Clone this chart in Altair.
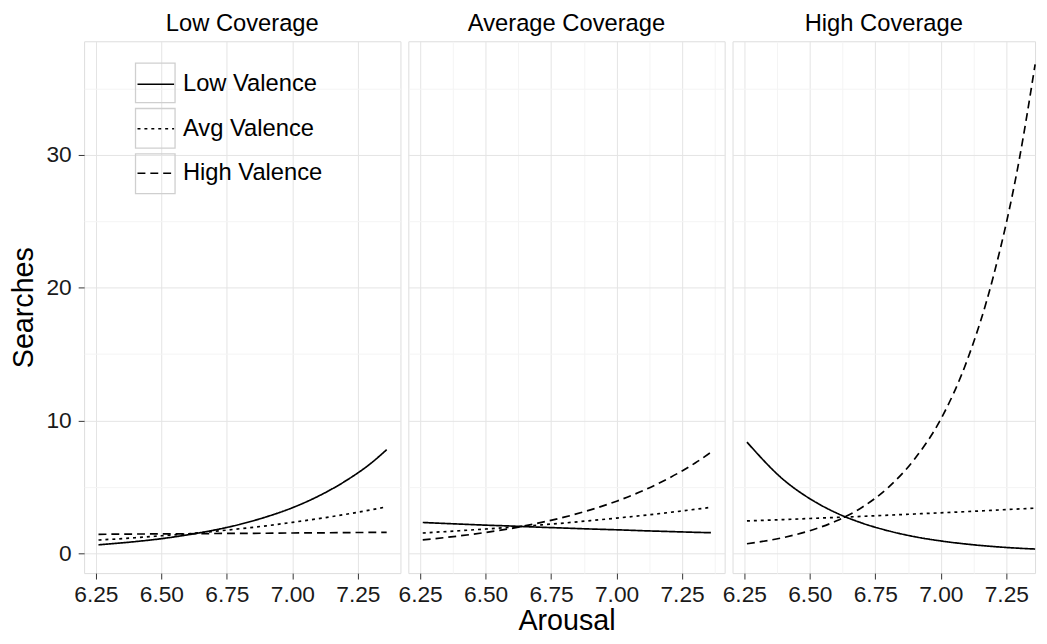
import altair as alt
import pandas as pd

FONT = "Liberation Sans"

arousal = [6.26, 6.40, 6.50, 6.60, 6.70, 6.80, 6.90, 7.00, 7.10, 7.20, 7.30, 7.36]
coverages = ["Low Coverage", "Average Coverage", "High Coverage"]
valences = ["Low Valence", "Avg Valence", "High Valence"]

low_cov_low_val = [0.64, 0.88, 1.10, 1.39, 1.74, 2.18, 2.74, 3.43, 4.31, 5.41, 6.78, 7.80]
low_cov_avg_val = [1.00, 1.17, 1.32, 1.47, 1.65, 1.85, 2.07, 2.33, 2.61, 2.92, 3.27, 3.50]
low_cov_high_val = [1.43, 1.45, 1.46, 1.47, 1.49, 1.50, 1.51, 1.53, 1.54, 1.56, 1.57, 1.58]

avg_cov_low_val = [2.32, 2.20, 2.12, 2.05, 1.97, 1.90, 1.83, 1.77, 1.70, 1.64, 1.58, 1.55]
avg_cov_avg_val = [1.53, 1.70, 1.83, 1.97, 2.12, 2.28, 2.46, 2.65, 2.85, 3.07, 3.31, 3.46]
avg_cov_high_val = [1.01, 1.31, 1.57, 1.88, 2.27, 2.72, 3.27, 3.92, 4.71, 5.66, 6.80, 7.60]

high_cov_low_val = [8.37, 5.53, 4.11, 3.05, 2.27, 1.69, 1.25, 0.93, 0.69, 0.51, 0.38, 0.32]
high_cov_avg_val = [2.44, 2.54, 2.62, 2.70, 2.78, 2.87, 2.96, 3.05, 3.14, 3.24, 3.34, 3.40]
high_cov_high_val = [0.72, 1.19, 1.70, 2.43, 3.47, 4.97, 7.10, 10.1, 14.5, 20.8, 29.7, 36.8]

series = {
    ("Low Coverage", "Low Valence"): low_cov_low_val,
    ("Low Coverage", "Avg Valence"): low_cov_avg_val,
    ("Low Coverage", "High Valence"): low_cov_high_val,
    ("Average Coverage", "Low Valence"): avg_cov_low_val,
    ("Average Coverage", "Avg Valence"): avg_cov_avg_val,
    ("Average Coverage", "High Valence"): avg_cov_high_val,
    ("High Coverage", "Low Valence"): high_cov_low_val,
    ("High Coverage", "Avg Valence"): high_cov_avg_val,
    ("High Coverage", "High Valence"): high_cov_high_val,
}

box_keys = ["key1", "key2", "key3"]
box_of = dict(zip(valences, box_keys))

rows = []
for (cov, val), ys in series.items():
    for x, y in zip(arousal, ys):
        rows.append({"coverage": cov, "valence": val, "box": box_of[val], "arousal": x, "searches": y})
df = pd.DataFrame(rows)

x_ticks = [6.25, 6.375, 6.5, 6.625, 6.75, 6.875, 7.0, 7.125, 7.25, 7.375]
y_ticks = [0, 5, 10, 15, 20, 25, 30, 35]

x_major = "abs(datum.value*4 - round(datum.value*4)) < 0.001"
y_major = "datum.value % 10 === 0"

major_grid = "#e4e4e4"
minor_grid = "#f4f4f4"

X_PER_UNIT = 265.0  # pixel scale shared by panels
X_LO = 6.205
PANEL_H = 538
Y_DOMAIN = [-1.49, 38.54]


def x_axis(title):
    kw = dict(
        values=x_ticks,
        format=".2f",
        labelExpr=f"({x_major}) ? datum.label : ''",
        gridColor=alt.condition(x_major, alt.value(major_grid), alt.value(minor_grid)),
        tickOpacity=alt.condition(x_major, alt.value(1), alt.value(0)),
        tickColor="#333333",
        tickSize=6,
        tickWidth=1,
        domain=False,
        labelFont=FONT,
        labelFontSize=23,
        labelColor="#1a1a1a",
        labelPadding=5,
        labelFlush=False,
        labelOverlap=False,
        titleFont=FONT,
        titleFontSize=29,
        titleFontWeight="normal",
        titleColor="#000000",
        titlePadding=0,
    )
    kw["title"] = title
    return alt.Axis(**kw)


def y_axis(show):
    kw = dict(
        values=y_ticks,
        gridColor=alt.condition(y_major, alt.value(major_grid), alt.value(minor_grid)),
        domain=False,
    )
    if show:
        kw.update(
            labelExpr=f"({y_major}) ? datum.label : ''",
            tickOpacity=alt.condition(y_major, alt.value(1), alt.value(0)),
            tickColor="#333333",
            tickSize=6,
            labelFont=FONT,
            labelFontSize=23,
            labelColor="#1a1a1a",
            labelPadding=7,
            title="Searches",
            titleFont=FONT,
            titleFontSize=29,
            titleFontWeight="normal",
            titleColor="#000000",
            titlePadding=8,
        )
    else:
        kw.update(labels=False, ticks=False, title=None)
    return alt.Axis(**kw)


dash_scale = alt.Scale(domain=valences, range=[[1, 0], [3, 4], [8, 5]])
box_scale = alt.Scale(domain=box_keys, range=["square", "square", "square"])

y_scale = alt.Scale(domain=Y_DOMAIN, nice=False, zero=False)


def panel(cov, width, show_y, xtitle, show_legend):
    xdomain = [X_LO, round(X_LO + width / X_PER_UNIT, 4)]
    sub = df[df["coverage"] == cov]
    if show_legend:
        dash_legend = alt.Legend(
            title=None,
            orient="none",
            legendX=53,
            legendY=24,
            symbolType="stroke",
            symbolSize=1369,
            symbolStrokeWidth=1.6,
            symbolStrokeColor="black",
            rowPadding=13,
            labelFont=FONT,
            labelFontSize=24,
            labelColor="#000000",
            labelOffset=8,
            labelLimit=300,
        )
    else:
        dash_legend = None
    lines = (
        alt.Chart(sub)
        .mark_line(color="black", strokeWidth=1.7, interpolate="monotone")
        .encode(
            x=alt.X("arousal:Q", scale=alt.Scale(domain=xdomain, nice=False, zero=False), axis=x_axis(xtitle)),
            y=alt.Y("searches:Q", scale=y_scale, axis=y_axis(show_y)),
            strokeDash=alt.StrokeDash("valence:N", scale=dash_scale, sort=valences, legend=dash_legend),
        )
    )
    if show_legend:
        boxes = (
            alt.Chart(sub)
            .mark_point(filled=False)
            .transform_filter("false")
            .encode(
                x=alt.X("arousal:Q"),
                y=alt.Y("searches:Q"),
                shape=alt.Shape(
                    "box:N",
                    scale=box_scale,
                    legend=alt.Legend(
                        title=None,
                        orient="none",
                        legendX=51,
                        legendY=21,
                        symbolSize=1600,
                        symbolStrokeColor="#cfcfcf",
                        symbolFillColor="transparent",
                        symbolStrokeWidth=1.3,
                        symbolOpacity=1,
                        rowPadding=0,
                        labelExpr="''",
                        labelFontSize=1,
                    ),
                ),
            )
        )
        layer = alt.layer(boxes, lines)
    else:
        layer = lines
    return layer.properties(
        width=width,
        height=PANEL_H,
        title=alt.TitleParams(cov, font=FONT, fontSize=24, fontWeight="normal", color="#000000", offset=5, anchor="middle"),
    )


p1 = panel("Low Coverage", 320, True, None, True)
p2 = panel("Average Coverage", 320, False, "Arousal", False)
p3 = panel("High Coverage", 306, False, None, False)

chart = (
    alt.hconcat(p1, p2, p3, spacing=8, bounds="flush")
    .configure_view(stroke="#7f7f7f", strokeWidth=1)
    .configure(background="white", padding=0)
)

chart.save("out.html", embed_options={"renderer": "svg", "actions": False})
